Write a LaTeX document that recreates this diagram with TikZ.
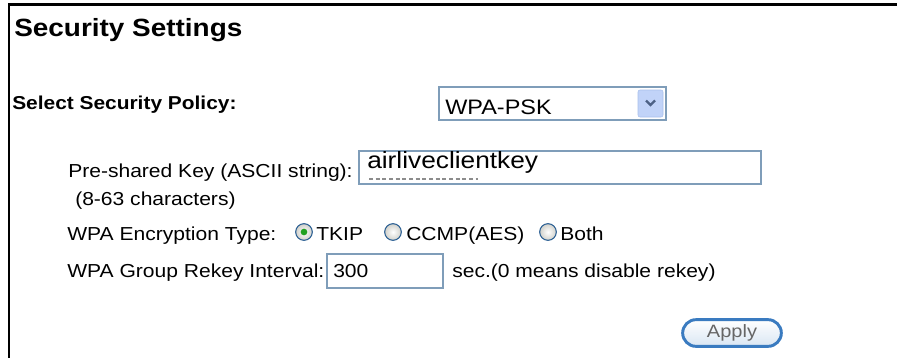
\documentclass[tikz,border=0pt]{standalone}
\usepackage{fontspec}
\setmainfont{Liberation Sans}[FakeStretch=1.12]
\usetikzlibrary{positioning,calc,shapes.misc}
\definecolor{fieldline}{HTML}{7F9DB9}
\definecolor{dropfill}{HTML}{C1D3F8}
\definecolor{dropline}{HTML}{A9C0EC}
\definecolor{chevron}{HTML}{4D6185}
\definecolor{radioline}{HTML}{2A5F93}
\definecolor{radiogray}{HTML}{D0D0CA}
\definecolor{radiogreen}{HTML}{21A121}
\definecolor{applyline}{HTML}{3A7BC0}
\definecolor{applyfill}{HTML}{D9E6F3}

\begin{document}
\begin{tikzpicture}[x=0.75pt,y=-0.75pt,
    lbl/.style={anchor=base west,inner sep=0pt,font=\fontsize{14.1}{17}\selectfont},
    field/.style={draw=fieldline,line width=1.1pt,fill=white},
    radio/.style={circle,draw=radioline,line width=0.8pt,inner color=white,
      outer color=radiogray,minimum size=12.5pt,inner sep=0pt},
    pick/.style={circle,fill=radiogreen,minimum size=5pt,inner sep=0pt}]
    \useasboundingbox (0,0) rectangle (897,358);

    % frame
    \draw[line width=1.9pt] (897,4.5) -- (9,4.5) -- (9,358);

    \node[lbl,font=\bfseries\fontsize{18.7}{22}\selectfont] (title) at (14,36) {Security Settings};
    \node[lbl,font=\bfseries\fontsize{14}{17}\selectfont] (policy) at (12,109) {Select Security Policy:};

    % policy drop-down
    \draw[field] (439,87) rectangle (666,120);
    \draw[draw=dropline,fill=dropfill,rounded corners=1.5pt] (638,90) rectangle (663,117);
    \draw[chevron,line width=1.8pt] (646,100.5) -- (650.5,105) -- (655,100.5);
    \node[lbl,font=\fontsize{15.7}{18}\selectfont] (wpapsk) at (445,114) {WPA-PSK};

    % pre-shared key
    \node[lbl] (keylbl) at (68,177) {Pre-shared Key (ASCII string):};
    \node[lbl] (keyhint) at (75,205) {(8-63 characters)};
    \draw[field] (359,151) rectangle (761,184);
    \draw[black!45,line width=1.1pt,dash pattern=on 3pt off 2pt] (369,179) -- (478,179);
    \node[lbl,font=\fontsize{17.6}{20}\selectfont] (keyval) at (367,168) {airliveclientkey};

    % encryption type
    \node[lbl] (enclbl) at (67,240) {WPA Encryption Type:};
    \node[radio] (tkip) at (304,232) {};
    \node[pick] at (tkip) {};
    \node[lbl] (tkiplbl) at (316,240) {TKIP};
    \node[radio] (ccmp) at (393,232) {};
    \node[lbl] (ccmplbl) at (406,240) {CCMP(AES)};
    \node[radio] (both) at (548,232) {};
    \node[lbl] (bothlbl) at (560,240) {Both};

    % rekey interval
    \node[lbl] (rekeylbl) at (67,277) {WPA Group Rekey Interval:};
    \draw[field] (327,254) rectangle (443,288);
    \node[lbl] (rekeyval) at (333,277) {300};
    \node[lbl] (rekeyhint) at (452,277) {sec.(0 means disable rekey)};

    % apply button
    \node[rounded rectangle,draw=applyline,line width=2.2pt,top color=white,
      bottom color=applyfill,minimum width=74pt,minimum height=20pt,inner sep=0pt,
      text=black!60,font=\fontsize{13.4}{16}\selectfont] (apply) at (732,333) {Apply};
\end{tikzpicture}
\end{document}
